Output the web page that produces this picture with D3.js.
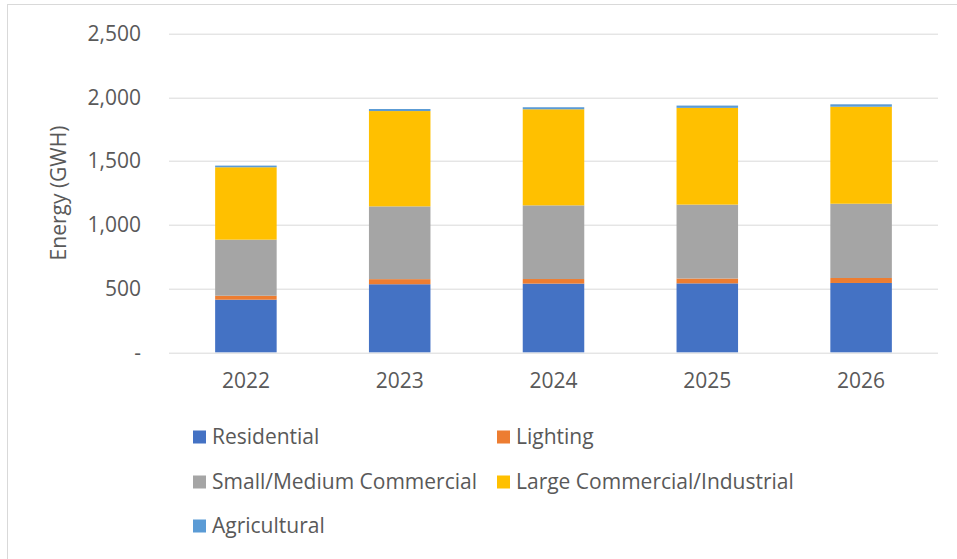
<!DOCTYPE html>
<html>
<head>
<meta charset="utf-8">
<script src="https://cdn.jsdelivr.net/npm/d3@7"></script>
<style>
  body { margin: 0; background: #fff; }
  text { font-family: "Open Sans", sans-serif; fill: #595959; }
</style>
</head>
<body>
<svg id="chart" width="957" height="559"></svg>
<script>
// values (GWH)
const years = ["2022", "2023", "2024", "2025", "2026"]
const seriesNames = ["Residential", "Lighting", "Small/Medium Commercial", "Large Commercial/Industrial", "Agricultural"]
const colors = ["#4472c4", "#ed7d31", "#a5a5a5", "#ffc000", "#5b9bd5"]
const residential = [413, 534, 539, 541, 544]
const lighting = [31, 40, 36, 38, 39]
const smallMedium = [440, 571, 578, 580, 583]
const largeIndustrial = [568, 748, 754, 759, 761]
const agricultural = [13, 16, 16, 18, 19]
const yTicks = [0, 500, 1000, 1500, 2000, 2500]

const svg = d3.select("#chart")
const margin = { top: 33.7, left: 169, right: 19, bottom: 206.7 }
const w = 957 - margin.left - margin.right,
    h = 559 - margin.top - margin.bottom

// chart border
svg.append("rect")
    .attr("x", 7.5).attr("y", 4.5)
    .attr("width", 960).attr("height", 600)
    .attr("fill", "none").attr("stroke", "#d9d9d9")

const rows = years.map((y, i) => ({
    year: y,
    "Residential": residential[i],
    "Lighting": lighting[i],
    "Small/Medium Commercial": smallMedium[i],
    "Large Commercial/Industrial": largeIndustrial[i],
    "Agricultural": agricultural[i]
}))
const stacked = d3.stack().keys(seriesNames)(rows)

const x = d3.scaleBand().domain(years).range([0, w]).paddingInner(0.6).paddingOuter(0.3)
const y = d3.scaleLinear().domain([0, 2500]).range([h, 0])

const g = svg.append("g").attr("transform", "translate(" + margin.left + "," + margin.top + ")")

// gridlines
g.append("g").selectAll("line")
    .data(yTicks)
    .enter().append("line")
    .attr("x1", 0).attr("x2", w)
    .attr("y1", d => Math.round(y(d)) + 0.5).attr("y2", d => Math.round(y(d)) + 0.5)
    .attr("stroke", "#d9d9d9").attr("stroke-width", 1)

// y tick labels
const yAxis = g.append("g")
    .call(d3.axisLeft(y).tickValues(yTicks).tickSize(0).tickPadding(28)
        .tickFormat(d => d === 0 ? "-" : d3.format(",")(d)))
yAxis.select(".domain").remove()
yAxis.selectAll("text").style("font-size", "21px").attr("fill", "#595959")

// x tick labels
const xAxis = g.append("g")
    .attr("transform", "translate(0," + h + ")")
    .call(d3.axisBottom(x).tickSize(0).tickPadding(21))
xAxis.select(".domain").remove()
xAxis.selectAll("text").style("font-size", "21px").attr("fill", "#595959")

// bars
g.selectAll(".series")
    .data(stacked)
    .enter().append("g")
    .attr("class", "series")
    .attr("fill", (d, i) => colors[i])
    .selectAll("rect")
    .data(d => d)
    .enter().append("rect")
    .attr("x", d => x(d.data.year))
    .attr("y", d => y(d[1]))
    .attr("width", x.bandwidth())
    .attr("height", d => y(d[0]) - y(d[1]))

// y axis title
svg.append("text")
    .attr("transform", "translate(66," + (margin.top + h / 2) + ") rotate(-90)")
    .attr("text-anchor", "middle")
    .style("font-size", "21px")
    .text("Energy (GWH)")

// legend
const legendPos = [[193, 437], [497, 437], [193, 482], [497, 482], [193, 526]]
const legend = svg.append("g").selectAll("g")
    .data(seriesNames)
    .enter().append("g")
    .attr("transform", (d, i) => "translate(" + legendPos[i][0] + "," + legendPos[i][1] + ")")
legend.append("rect")
    .attr("x", 0).attr("y", -6.5)
    .attr("width", 13).attr("height", 13)
    .attr("fill", (d, i) => colors[i])
legend.append("text")
    .attr("x", 19).attr("dy", "0.35em")
    .style("font-size", "21px")
    .text(d => d)
</script>
</body>
</html>
